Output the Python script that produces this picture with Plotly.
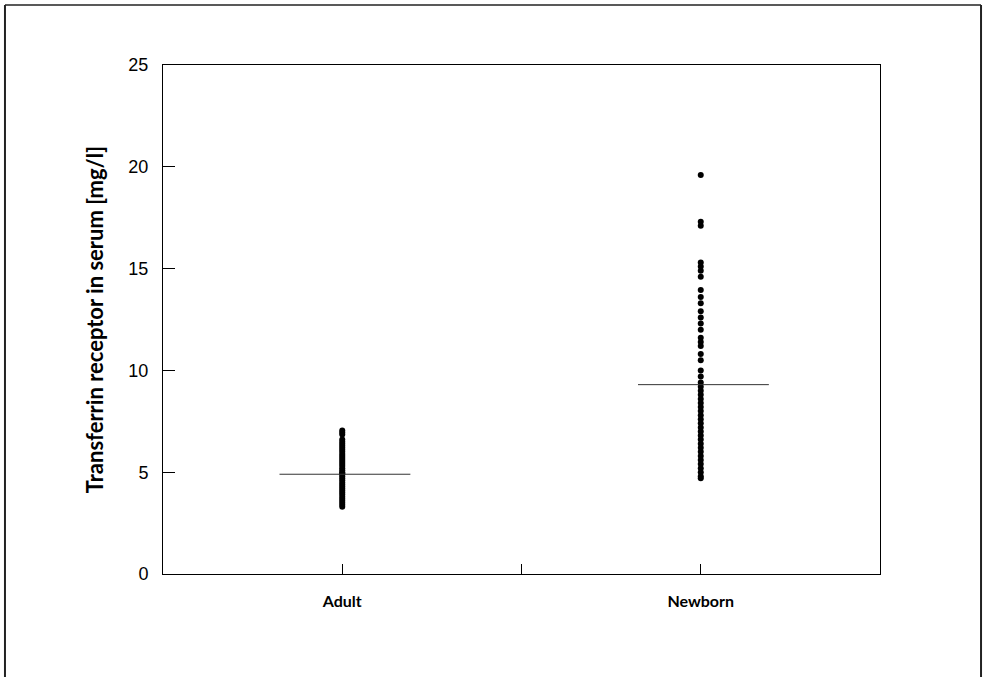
import plotly.graph_objects as go

categories = ["Adult", "Newborn"]
cat_pos = [0, 1]

adult_values = [7.05, 6.95, 6.85, 6.6, 6.5, 6.4, 6.3, 6.2, 6.1, 6.0, 5.9, 5.8, 5.7, 5.6,
                5.5, 5.4, 5.3, 5.2, 5.1, 5.0, 4.95, 4.9, 4.8, 4.7, 4.6, 4.5, 4.4, 4.3,
                4.2, 4.1, 4.0, 3.9, 3.8, 3.7, 3.6, 3.5, 3.4, 3.3]
newborn_values = [19.6, 17.3, 17.1, 15.3, 15.1, 14.9, 14.6, 13.95, 13.6, 13.3, 12.9,
                  12.6, 12.3, 12.0, 11.6, 11.4, 11.2, 10.8, 10.5, 10.0, 9.7, 9.4,
                  9.2, 9.0, 8.8, 8.6, 8.4, 8.2, 8.0, 7.8, 7.6, 7.4, 7.2, 7.0, 6.8,
                  6.6, 6.4, 6.2, 6.0, 5.8, 5.6, 5.4, 5.2, 5.0, 4.8, 4.7]
medians = [4.9, 9.3]

y_ticks = [0, 5, 10, 15, 20, 25]
y_title = "Transferrin receptor in serum [mg/l]"

fig = go.Figure()

for pos, vals in zip(cat_pos, [adult_values, newborn_values]):
    fig.add_trace(go.Scatter(
        x=[pos] * len(vals), y=vals, mode="markers",
        marker=dict(color="black", size=6, line=dict(width=0)),
        showlegend=False, hoverinfo="y"))

for pos, med in zip(cat_pos, medians):
    fig.add_trace(go.Scatter(
        x=[pos - 0.175, pos + 0.19], y=[med, med], mode="lines",
        line=dict(color="#333333", width=1),
        showlegend=False, hoverinfo="skip"))

fig.update_layout(
    width=985, height=677,
    margin=dict(l=163, r=105, t=65, b=103),
    paper_bgcolor="white", plot_bgcolor="white",
    xaxis=dict(
        range=[-0.5, 1.5],
        tickvals=[0, 0.5, 1],
        ticktext=["<b>" + categories[0] + "</b>", "", "<b>" + categories[1] + "</b>"],
        ticks="inside", ticklen=10, tickwidth=1, tickcolor="black",
        showline=True, linecolor="black", linewidth=1, mirror=True,
        showgrid=False, zeroline=False,
        tickfont=dict(family="Lato, Open Sans, sans-serif", size=16, color="black"),
        ticklabelstandoff=13,
    ),
    yaxis=dict(
        range=[0, 25],
        tickvals=y_ticks,
        ticks="inside", ticklen=12, tickwidth=1, tickcolor="black",
        showline=True, linecolor="black", linewidth=1, mirror=True,
        showgrid=False, zeroline=False,
        tickfont=dict(family="Liberation Sans, Arial, sans-serif", size=18, color="black"),
        ticklabelstandoff=10,
        title=dict(text="<b>" + y_title + "</b>",
                   font=dict(family="Lato, Open Sans, sans-serif", size=22, color="black"),
                   standoff=18),
    ),
    shapes=[
        dict(type="line", xref="paper", yref="paper", x0=-0.2204, x1=1.1409,
             y0=1.1179, y1=1.1179, line=dict(color="#222222", width=1.5)),
        dict(type="line", xref="paper", yref="paper", x0=-0.2204, x1=-0.2204,
             y0=1.1179, y1=-0.25, line=dict(color="#222222", width=2)),
        dict(type="line", xref="paper", yref="paper", x0=1.1409, x1=1.1409,
             y0=1.1179, y1=-0.25, line=dict(color="#222222", width=2)),
    ],
)

fig.write_html("out.html")
